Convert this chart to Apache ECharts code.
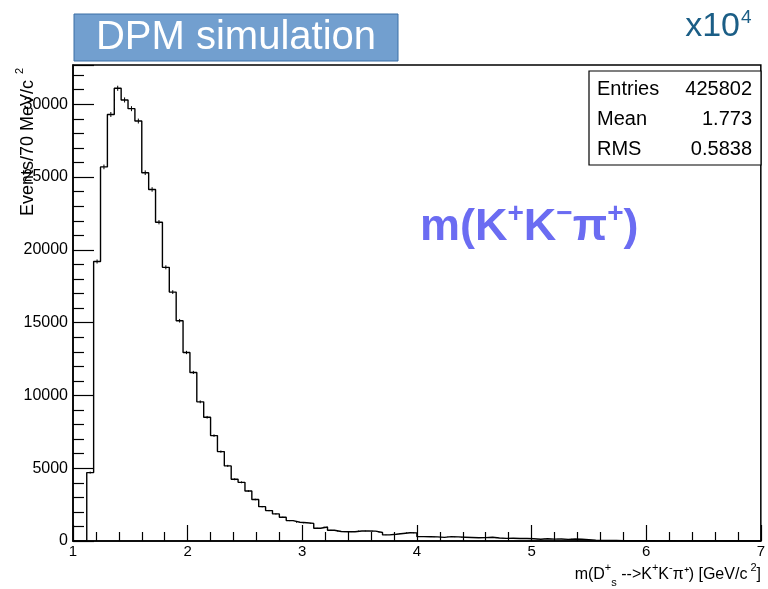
<!DOCTYPE html>
<html>
<head>
<meta charset="utf-8">
<script src="https://cdn.jsdelivr.net/npm/echarts@6/dist/echarts.min.js"></script>
<style>
  html, body { margin: 0; padding: 0; background: #ffffff; }
  #chart { width: 768px; height: 589px; }
</style>
</head>
<body>
<div id="chart"></div>
<script>
// Histogram definition: 100 bins of 0.06 GeV/c^2 from 1.0 to 7.0
const binLow = 1.0;
const binWidth = 0.06;

// Bin contents (events per bin), starting at 1.00
const counts = [
  0, 0, 4700, 19200, 25700, 29300, 31100, 30300, 29700, 28850,
  25300, 24150, 21900, 18800, 17100, 15130, 12950, 11580, 9560, 8500,
  7240, 6140, 5160, 4240, 4030, 3430, 2850, 2360, 2090, 1860,
  1630, 1400, 1290, 1250, 1210, 880, 960, 740, 650, 640,
  640, 690, 690, 680, 580, 420, 460, 520, 570, 560,
  300, 290, 280, 250, 300, 280, 260, 240, 220, 230,
  260, 210, 180, 190, 170, 170, 150, 120, 150, 130,
  140, 110, 140, 120, 90, 60, 40, 30, 30, 20,
  20, 20, 10, 20, 10, 10, 20, 10, 10, 10,
  10, 0, 10, 10, 0, 10, 0, 0, 10, 0
];

// Statistics box
const statNames = ['Entries', 'Mean', 'RMS'];
const statValues = ['425802', '1.773', '0.5838'];

const xTicks = [1, 2, 3, 4, 5, 6, 7];
const yTicks = [0, 5000, 10000, 15000, 20000, 25000, 30000];

const FONT = "'Liberation Sans', Arial, Helvetica, sans-serif";

// Step outline of the histogram: one point per lower bin edge plus the last upper edge
const stepData = counts.map((c, k) => [binLow + k * binWidth, c]);
stepData.push([binLow + counts.length * binWidth, counts[counts.length - 1]]);

// Statistical error bars at bin centres
const errData = counts.map((c, k) => [binLow + (k + 0.5) * binWidth, c, Math.sqrt(c)]);

const chart = echarts.init(document.getElementById('chart'), null, { renderer: 'canvas' });

const gridLeft = 73, gridTop = 65, gridRight = 761, gridBottom = 541;

const statGraphics = [];
statNames.forEach((name, i) => {
  const cy = 89 + i * 30;
  statGraphics.push({
    type: 'text', x: 597, y: cy, z: 11,
    style: { text: name, font: '20px ' + FONT, fill: '#000', textVerticalAlign: 'middle', textAlign: 'left' }
  });
  statGraphics.push({
    type: 'text', x: 752, y: cy, z: 11,
    style: { text: statValues[i], font: '20px ' + FONT, fill: '#000', textVerticalAlign: 'middle', textAlign: 'right' }
  });
});

const option = {
  backgroundColor: '#ffffff',
  animation: false,
  grid: {
    left: gridLeft, top: gridTop,
    width: gridRight - gridLeft, height: gridBottom - gridTop,
    show: true, borderColor: '#000', borderWidth: 1.5, backgroundColor: 'transparent'
  },
  xAxis: {
    type: 'value', min: xTicks[0], max: xTicks[xTicks.length - 1], interval: 1,
    axisLine: { show: true, onZero: false, lineStyle: { color: '#000', width: 1.5 } },
    axisTick: { show: true, inside: true, length: 16, lineStyle: { color: '#000', width: 1.2 } },
    minorTick: { show: true, splitNumber: 5, length: 9, lineStyle: { color: '#000', width: 1.2 } },
    splitLine: { show: false },
    axisLabel: { margin: 3, fontFamily: FONT, fontSize: 15, color: '#000',
      formatter: v => (xTicks.indexOf(v) >= 0 ? String(v) : '') }
  },
  yAxis: {
    type: 'value', min: 0, max: 32700, interval: 5000,
    axisLine: { show: true, lineStyle: { color: '#000', width: 1.5 } },
    axisTick: { show: true, inside: true, length: 21, lineStyle: { color: '#000', width: 1.2 } },
    minorTick: { show: true, splitNumber: 5, length: 11, lineStyle: { color: '#000', width: 1.2 } },
    splitLine: { show: false },
    axisLabel: { margin: 5, fontFamily: FONT, fontSize: 16, color: '#000',
      showMaxLabel: false, formatter: v => (yTicks.indexOf(v) >= 0 ? String(v) : '') }
  },
  series: [
    {
      type: 'line', step: 'end', data: stepData, symbol: 'none',
      lineStyle: { color: '#000', width: 1.4 }, z: 3
    },
    {
      type: 'custom', data: errData, z: 4,
      renderItem: function (params, api) {
        const x = api.value(0), v = api.value(1), e = api.value(2);
        if (v <= 0) return null;
        const p1 = api.coord([x, v - e]);
        const p2 = api.coord([x, v + e]);
        return {
          type: 'line',
          shape: { x1: p1[0], y1: p1[1], x2: p2[0], y2: p2[1] },
          style: { stroke: '#000', lineWidth: 1 }
        };
      }
    }
  ],
  graphic: [
    // header banner
    { type: 'rect', shape: { x: 74, y: 14, width: 324, height: 47 },
      style: { fill: '#729fcf', stroke: '#3a6ea5', lineWidth: 1 } },
    { type: 'text', x: 236, y: 38,
      style: { text: 'DPM simulation', font: '40px ' + FONT, fill: '#ffffff', textAlign: 'center', textVerticalAlign: 'middle' } },
    // scale factor
    { type: 'text', x: 740, y: 27,
      style: { text: 'x10', font: '34px ' + FONT, fill: '#1b5e86', textAlign: 'right', textVerticalAlign: 'middle' } },
    { type: 'text', x: 741, y: 18,
      style: { text: '4', font: '19px ' + FONT, fill: '#1b5e86', textAlign: 'left', textVerticalAlign: 'middle' } },
    // statistics box
    { type: 'rect', shape: { x: 589, y: 71, width: 172, height: 94 },
      style: { fill: '#ffffff', stroke: '#000', lineWidth: 1.2 }, z: 10 },
    ...statGraphics,
    // decay channel label
    { type: 'text', x: 420, y: 228,
      style: {
        text: '{b|m(K}{s|+}{b|K}{s|−}{b|π}{s|+}{b|)}',
        textVerticalAlign: 'middle', textAlign: 'left',
        rich: {
          b: { font: 'bold 45px ' + FONT, fill: '#6b6cf2', lineHeight: 56, verticalAlign: 'middle' },
          s: { font: 'bold 28px ' + FONT, fill: '#6b6cf2', lineHeight: 30, verticalAlign: 'top' }
        }
      } },
    // x axis title
    { type: 'text', x: 761, y: 575,
      style: {
        text: '{n|m(D}{sup|+}{sub|s}{n| -->K}{sup|+}{n|K}{sup|-}{n|π⁺) [GeV/c}{sup| 2}{n|]}',
        textAlign: 'right', textVerticalAlign: 'middle',
        rich: {
          n: { font: '16px ' + FONT, fill: '#000', lineHeight: 26, verticalAlign: 'middle' },
          sup: { font: '11px ' + FONT, fill: '#000', lineHeight: 14, verticalAlign: 'top' },
          sub: { font: '11px ' + FONT, fill: '#000', lineHeight: 10, verticalAlign: 'bottom' }
        }
      } },
    // y axis title
    { type: 'text', x: 28, y: 80, rotation: Math.PI / 2,
      style: { text: 'Events/70 MeV/c', font: '18px ' + FONT, fill: '#000', textAlign: 'right', textVerticalAlign: 'middle' } },
    { type: 'text', x: 20, y: 71, rotation: Math.PI / 2,
      style: { text: '2', font: '11px ' + FONT, fill: '#000', textAlign: 'center', textVerticalAlign: 'middle' } }
  ]
};

chart.setOption(option);
</script>
</body>
</html>
